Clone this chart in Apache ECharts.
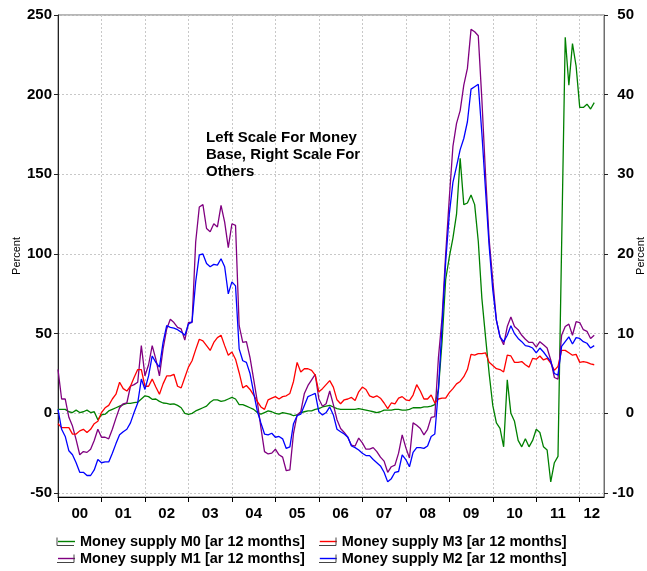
<!DOCTYPE html>
<html>
<head>
<meta charset="utf-8">
<script src="https://cdn.jsdelivr.net/npm/echarts@6/dist/echarts.min.js"></script>
<style>
  html, body { margin: 0; padding: 0; background: #fff; }
  #chart { width: 647px; height: 571px; }
</style>
</head>
<body>
<div id="chart"></div>
<script>
// Year labels on the time axis (monthly data, Jan 2000 - May 2012)
const yearLabels = ['00', '01', '02', '03', '04', '05', '06', '07', '08', '09', '10', '11', '12'];

// Tick labels for the two value axes
const leftTicks = [-50, 0, 50, 100, 150, 200, 250];
const rightTicks = [-10, 0, 10, 20, 30, 40, 50];

// Money base M0, annual rate over 12 months (left scale)
const moneyM0 = [
  2.5, 2.5, 2.5, 1, 0.5, 2, 0.5, 1, 2, 0.5, 1, -4,
  -1, -0.5, 1.5, 2.5, 3.5, 4.5, 5.5, 6.3, 6.3, 6.7, 7, 9,
  11, 10.5, 8.8, 9, 7.5, 6.5, 6.3, 5.7, 6, 5, 3.5, 0,
  -0.6, 0, 1.5, 2.5, 3.5, 4.5, 7, 8.5, 8.5, 7.5, 8, 9,
  10, 9, 5.5, 5.5, 4.5, 3.5, 2.5, 0.5, -0.5, 0.5, 1.5, 1,
  0, -0.5, 0.5, 0, -0.5, -1.5, -1, 0.5, 1, 1.5, 1.5, 2.5,
  3, 4, 4.5, 5, 4, 3, 2.5, 2.5, 2.5, 2.5, 2.5, 3,
  2.5, 2, 1.5, 1, 0.5, 1, 2, 2, 2, 2.5, 2.5, 2,
  2, 2.5, 3.5, 3.5, 3.5, 4, 4, 4.5, 5.5, 15, 45, 84,
  98, 110, 125, 160, 131, 132, 137, 131, 108, 72, 48, 25,
  5, -6, -9.4, -21, 21, 0, -5, -17, -21, -16, -21, -17,
  -10, -12, -21, -23, -43, -31, -27, 105, 236, 206, 232, 218,
  192, 192, 194, 191, 195
];

// Money supply M1 (right scale)
const moneyM1 = [
  5.5, 1.8, 1.8, -0.5, -1.6, -3.3, -5.2, -4.8, -4.9, -4.5, -3.4, -2.0,
  -3.0, -3.0, -3.2, -2.0, -0.6, 0.7, 1.2, 1.3, 3.4, 3.6, 3.9, 8.5,
  4.7, 6.1, 8.5, 6.8, 4.7, 8.1, 10.6, 11.8, 11.4, 10.8, 10.6, 9.2,
  11.4, 11.4, 21.5, 25.9, 26.2, 23.2, 22.8, 23.8, 23.4, 26.1, 24.0, 20.8,
  23.8, 23.6, 11, 8.9, 9.0, 7.0, 4.3, 1.5, -1.8, -4.8, -5.1, -5.0,
  -4.5, -5.2, -5.5, -7.2, -7.1, -2.5, -0.2, 0.2, 2.5, 3.5, 4.2, 4.9,
  1.8, 0.9, 1.2, 2.8, 1.1, -0.8, -1.9, -2.4, -3.0, -4.0, -4.1, -3.1,
  -3.7, -4.5, -4.5, -4.3, -4.8, -5.5, -6.0, -7.4, -6.7, -6.5, -5.0, -2.7,
  -4.3, -5.6, -1.2, -1.5, -1.9, -2.7, -2.0, -0.5, -0.4, 7, 12, 20,
  27, 33.5, 36.4, 38, 41.2, 43.3, 48.2, 47.9, 47.4, 39.3, 30, 21.8,
  16.7, 11.7, 9.6, 8.6, 10.9, 12.1, 10.9, 10.5, 9.8, 9.3, 8.9, 8.9,
  8.3, 9.0, 8.6, 8.2, 6.7, 4.5, 4.3, 9.8, 10.9, 11.2, 9.8, 11.5,
  11.4, 10.5, 10.3, 9.4, 9.8
];

// Money supply M2 (right scale)
const moneyM2 = [
  0.5, -2, -2.9, -4.7, -5.2, -6.2, -7.4, -7.4, -7.8, -7.8, -7.1, -5.8,
  -6.2, -6.1, -6.1, -5, -3.8, -2.7, -2.3, -2.0, -1.2, 0.1, 1.3, 4.3,
  3.0, 4.7, 7.2, 6.4, 5.8, 8.9, 11, 10.8, 10.7, 10.5, 10.2, 9.8,
  11.2, 11.5, 16.5, 19.9, 20, 18.8, 18.4, 18.7, 18.6, 19.4, 18.4, 15,
  16.5, 16, 8.1, 6.6, 6.4, 5, 2.6, 0.3, -1.2, -2.6, -2.7, -2.5,
  -3, -2.9, -3.2, -4.4, -4.2, -1.3, -0.3, -0.1, 1.0, 2.1, 2.3, 2.5,
  0.2, -0.2, 0.1, 0.8, -0.2, -2.0, -2.3, -2.6, -3.0, -4.1, -4.3, -4.6,
  -5.0, -5.3, -5.3, -5.8, -6.2, -6.6, -7.4, -8.6, -8.2, -7.4, -7.3, -5.2,
  -5.8, -6.7, -4.9, -4.3, -4.3, -4.4, -4.1, -2.9, -2.6, 3, 11, 19,
  25, 29, 31, 33.1, 34.5, 36.6, 40.7, 41, 41.3, 35.1, 28, 21,
  15.5, 11.7, 9.6, 9.0, 9.8, 11, 10, 9.4, 9.0, 8.5, 8.4, 8.2,
  7.6, 8.2, 7.7, 7.1, 6.5, 5, 4.8, 8.4, 9, 9.6, 8.7, 9.5,
  9.4, 9.0, 8.8, 8.2, 8.5
];

// Money supply M3 (right scale)
const moneyM3 = [
  -1.3, -1.8, -1.8, -1.8, -2.6, -2.6, -2.2, -2.0, -2.4, -2.0, -1.3, -1.0,
  0.1, 0.7, 1.0, 1.8, 2.4, 3.9, 3.1, 2.8, 3.4, 4.5, 5.5, 5.5,
  3.4, 3.4, 4.3, 3.3, 2.4, 3.7, 4.7, 4.7, 4.9, 3.4, 3.2, 4.5,
  5.8, 6.6, 8.0, 9.3, 9.1, 8.5, 7.9, 8.9, 9.5, 9.8, 8.5, 7.3,
  7.7, 6.8, 5.1, 3.2, 3.5, 3.0, 2.3, 1.5, 0.8, 0.5, 1.7, 1.9,
  2.1, 1.8, 2.1, 2.2, 2.5, 4.0, 6.4, 5.2, 5.6, 5.6, 5.4, 4.8,
  2.7, 3.1, 3.6, 4.1, 3.3, 1.7, 1.2, 1.7, 1.8, 2.0, 1.6, 2.7,
  3.3, 3.0, 2.2, 2.0, 2.2, 1.9, 1.3, 0.6, 1.3, 1.2, 1.9, 2.1,
  1.7, 1.6, 2.3, 3.6, 2.8, 1.8, 1.8, 2.3, 1.3, 1.8, 1.9, 1.9,
  2.6, 3.1, 3.7, 4.0, 4.6, 5.5, 7.4, 7.3, 7.5, 7.5, 7.6, 6.4,
  6.0, 5.6, 5.5, 5.2, 7.3, 7.2, 6.4, 6.4, 6.5, 6.1, 5.8, 6.9,
  6.8, 7.2, 6.7, 6.9, 6.3, 5.4, 5.9, 7.9, 7.9, 7.6, 7.3, 7.4,
  6.4, 6.5, 6.4, 6.2, 6.1
];

const names = {
  m0: 'Money supply M0 [ar 12 months]',
  m1: 'Money supply M1 [ar 12 months]',
  m2: 'Money supply M2 [ar 12 months]',
  m3: 'Money supply M3 [ar 12 months]'
};

const FONT = "'Liberation Sans', Arial, Helvetica, sans-serif";
const X_MAX = 150.7;            // months shown on the time axis
const GRID = { left: 58, right: 43, top: 15, bottom: 74 };

// year boundaries get ticks; labels sit in the middle of each (visible) year
const yearStarts = yearLabels.map((_, i) => i * 12);
const yearMids = yearLabels.map((_, i) => (i * 12 + Math.min(i * 12 + 12, X_MAX)) / 2);

const toPoints = arr => arr.map((v, i) => [i, v]);

const gridLine = { show: true, lineStyle: { color: '#c8c8c8', type: [2, 2], width: 1 } };
const tickText = { fontSize: 15, fontWeight: 'bold', color: '#000', fontFamily: FONT };

// legend rows and the small axis-side brackets next to each key
const LEG = { col1: 58, col2: 320, row1: 534, row2: 551, itemW: 17, mid1: 541.5, mid2: 558.5 };
const legendText = { fontSize: 14.5, fontWeight: 'bold', color: '#000', fontFamily: FONT };

function bracket(x, cy, side) {
  const yTop = cy - 4, yBot = cy + 4;
  const x0 = x - 1, x1 = x + LEG.itemW - 1;
  const pts = side === 'left'
    ? [[x0, yTop], [x0, yBot], [x1, yBot]]
    : [[x0, yBot], [x1, yBot], [x1, yTop]];
  return {
    type: 'polyline', silent: true, z: 100,
    shape: { points: pts },
    style: { stroke: '#444', lineWidth: 1, fill: null }
  };
}

function legendRow(items, top) {
  return {
    data: items, left: LEG.col1, top: top, padding: 0,
    icon: 'rect', itemWidth: LEG.itemW, itemHeight: 1.4, itemGap: 15,
    textStyle: legendText
  };
}

const chart = echarts.init(document.getElementById('chart'), null, { renderer: 'canvas' });

chart.setOption({
  animation: false,
  backgroundColor: '#fff',
  grid: {
    left: GRID.left, right: GRID.right, top: GRID.top, bottom: GRID.bottom,
    containLabel: false, outerBoundsMode: 'none',
    show: true, borderColor: '#6e6e6e', borderWidth: 1, backgroundColor: 'transparent'
  },
  legend: [
    legendRow([names.m0, names.m3], LEG.row1),
    legendRow([names.m1, names.m2], LEG.row2)
  ],
  xAxis: {
    type: 'value', min: 0, max: X_MAX, interval: 12,
    axisLine: { show: true, onZero: false, lineStyle: { color: '#000', width: 1 } },
    axisTick: { show: true, length: 5, customValues: yearStarts, lineStyle: { color: '#000' } },
    axisLabel: {
      ...tickText, margin: 9, customValues: yearMids,
      formatter: v => yearLabels[Math.min(yearLabels.length - 1, Math.floor(v / 12))]
    },
    splitLine: gridLine
  },
  yAxis: [
    {
      type: 'value', position: 'left', min: -52.5, max: 250,
      name: 'Percent', nameLocation: 'middle', nameGap: 36, nameRotate: 90, nameMoveOverlap: false,
      nameTextStyle: { fontSize: 11, color: '#000', fontFamily: FONT },
      axisLine: { show: true, lineStyle: { color: '#222', width: 1 } },
      axisTick: { show: true, length: 4, customValues: leftTicks, lineStyle: { color: '#222' } },
      axisLabel: { ...tickText, margin: 6, customValues: leftTicks },
      splitLine: gridLine
    },
    {
      type: 'value', position: 'right', min: -10.5, max: 50,
      name: 'Percent', nameLocation: 'middle', nameGap: 31, nameRotate: 90, nameMoveOverlap: false,
      nameTextStyle: { fontSize: 11, color: '#000', fontFamily: FONT },
      axisLine: { show: true, lineStyle: { color: '#6e6e6e', width: 1 } },
      axisTick: { show: true, length: 4, customValues: rightTicks, lineStyle: { color: '#222' } },
      axisLabel: { ...tickText, margin: 30, align: 'right', customValues: rightTicks },
      splitLine: { show: false }
    }
  ],
  series: [
    { name: names.m0, type: 'line', yAxisIndex: 0, data: toPoints(moneyM0), symbol: 'none',
      color: '#008000', lineStyle: { width: 1.3, color: '#008000' } },
    { name: names.m1, type: 'line', yAxisIndex: 1, data: toPoints(moneyM1), symbol: 'none',
      color: '#800080', lineStyle: { width: 1.3, color: '#800080' } },
    { name: names.m3, type: 'line', yAxisIndex: 1, data: toPoints(moneyM3), symbol: 'none',
      color: '#ff0000', lineStyle: { width: 1.3, color: '#ff0000' } },
    { name: names.m2, type: 'line', yAxisIndex: 1, data: toPoints(moneyM2), symbol: 'none',
      color: '#0000ff', lineStyle: { width: 1.3, color: '#0000ff' } }
  ],
  graphic: [
    {
      type: 'text', left: 206, top: 129, silent: true, z: 50,
      style: {
        text: 'Left Scale For Money\nBase, Right Scale For\nOthers',
        font: "bold 15px " + FONT, lineHeight: 17, fill: '#000'
      }
    },
    bracket(LEG.col1, LEG.mid1, 'left'),
    bracket(LEG.col2, LEG.mid1, 'right'),
    bracket(LEG.col1, LEG.mid2, 'right'),
    bracket(LEG.col2, LEG.mid2, 'right')
  ]
});
</script>
</body>
</html>
